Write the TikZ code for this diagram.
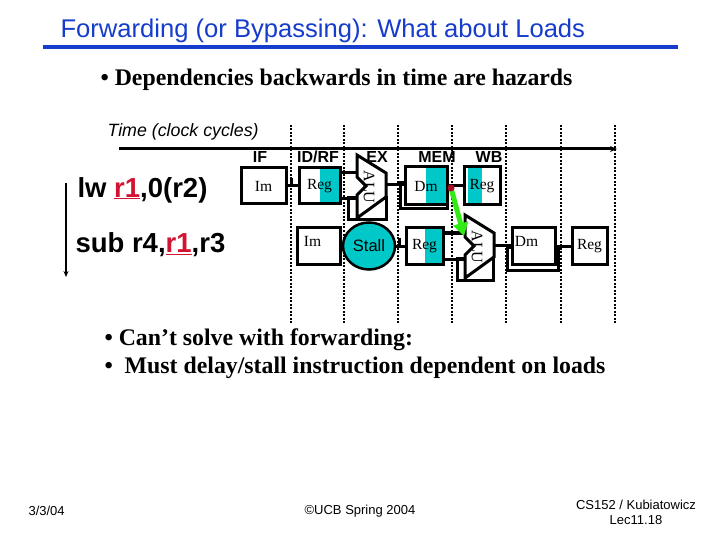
\documentclass[tikz,border=0pt]{standalone}
\usepackage{fontspec}
\setmainfont{Liberation Serif}
\setsansfont{Liberation Sans}
\usetikzlibrary{arrows.meta,calc,shapes.geometric}
\definecolor{titleblue}{RGB}{22,60,204}
\definecolor{regteal}{RGB}{0,200,200}
\definecolor{depred}{RGB}{210,20,50}
\definecolor{fwdgreen}{RGB}{50,235,20}
\tikzset{
  stagebox/.style={draw,fill=white,line width=3pt,minimum height=36pt,inner sep=0pt,
    font=\fontsize{15.5}{15.5}\selectfont},
  tealright/.style={path picture={\fill[regteal] ([xshift=-#1pt]path picture bounding box.north east)
    rectangle (path picture bounding box.south east);}},
  tealleft/.style={path picture={\fill[regteal] ([xshift=4pt]path picture bounding box.north west)
    rectangle ([xshift=#1pt]path picture bounding box.south west);}},
  wire/.style={line width=3pt},
  tick/.style={line width=3pt},
  cycleline/.style={line width=2.5pt,dash pattern=on 2pt off 1.5pt},
  stagelabel/.style={font=\sffamily\bfseries\fontsize{16}{16}\selectfont},
  instr/.style={anchor=west,font=\sffamily\bfseries\fontsize{27.5}{27.5}\selectfont},
  bullet/.style={anchor=west,font=\bfseries\fontsize{23.8}{23.8}\selectfont},
  foot/.style={font=\sffamily\fontsize{13}{15}\selectfont,align=center}
}
\newcommand{\depreg}{\textcolor{depred}{\underline{r1}}}
\newcommand{\aluunit}[2]{%
  \begin{scope}[shift={#2}]
    \draw[line width=3pt,fill=white] (0,0) -- (29,18) -- (29,42) -- (0,63) -- (0,40) -- (9,31) -- (0,22) -- cycle;
    \node[rotate=-90,font=\fontsize{16}{16}\selectfont,inner sep=0pt] at (12,32) {ALU};
    \coordinate (#1-in1) at (0,18);
    \coordinate (#1-in2) at (0,44);
    \coordinate (#1-out) at (29,30);
  \end{scope}}
\begin{document}
\begin{tikzpicture}[x=1pt,y=-1pt,>=Stealth]
  \useasboundingbox[fill=white] (0,0) rectangle (720,540);

  \node[anchor=west,text=titleblue,font=\sffamily\fontsize{25.6}{25.6}\selectfont] (title) at (57,31)
    {Forwarding (or Bypassing): What about Loads};
  \draw[titleblue,line width=4pt] (43,47) -- (678,47);
  \node[bullet] (deps) at (97,80) {\textbullet\ Dependencies backwards in time are hazards};

  \node[anchor=west,font=\sffamily\itshape\fontsize{17.8}{17.8}\selectfont] (time) at (104,132) {Time (clock cycles)};
  \foreach \x in {291,344,398,452,506,561,615}
    \draw[cycleline] (\x,125) -- (\x,323);
  \coordinate (t0) at (119,149);
  \coordinate (t1) at (617,149);
  \draw[line width=3pt,-{Stealth[length=7pt,width=6pt]}] (t0) -- (t1);

  \node[stagelabel] (sIF) at (260,157) {IF};
  \node[stagelabel] (sID) at (318,157) {ID/RF};
  \node[stagelabel] (sEX) at (377,157) {EX};
  \node[stagelabel] (sMEM) at (437,157) {MEM};
  \node[stagelabel] (sWB) at (489,157) {WB};

  \node[instr] (lw) at (74,190) {lw \depreg,0(r2)};
  \node[instr] (sub) at (72,245) {sub r4,\depreg,r3};
  \coordinate (a0) at (66,183);
  \coordinate (a1) at (66,277);
  \draw[line width=1.3pt,-{Stealth[length=6pt,width=5pt]}] (a0) -- (a1);

  \draw[line width=3pt] (348,198) rectangle (386,220);
  \draw[line width=3pt] (400,183) rectangle (447,209);
  \draw[line width=3pt] (457,258) rectangle (493,280);
  \draw[line width=3pt] (507,247) rectangle (558,270);

  \node[stagebox,minimum width=45pt] (im1) at (263.5,186) {Im};
  \node[stagebox,minimum width=41pt,tealright=20] (reg1) at (319.5,186) {Reg};
  \aluunit{alu1}{(357,155)}
  \node[stagebox,minimum width=42pt,minimum height=38pt,tealright=21] (dm1) at (426,186) {Dm};
  \node[stagebox,minimum width=36pt,minimum height=38pt,tealleft=18] (wb1) at (482,186) {Reg};

  \node[stagebox,minimum width=43pt,text depth=10pt] (im2) at (318.5,246) {\hspace*{-12pt}Im};
  \node[ellipse,draw,fill=regteal,line width=2.5pt,minimum width=52pt,minimum height=47pt,inner sep=0pt,
    font=\sffamily\fontsize{16.5}{16.5}\selectfont] (stall) at (369,246) {Stall};
  \node[stagebox,minimum width=37pt,tealright=18] (reg2) at (424.5,246) {Reg};
  \aluunit{alu2}{(465,215)}
  \node[stagebox,minimum width=43pt,text depth=10pt] (dm2) at (533.5,246) {\hspace*{-14pt}Dm};
  \node[stagebox,minimum width=35pt] (wb2) at (589.5,246) {Reg};

  \draw[wire] (im1) -- (reg1);
  \draw[tick] ($(im1.east)!0.4!(reg1.west)$) -- ++(0,-8);
  \draw[wire] ([yshift=13pt]reg1.east) -- (alu1-in1);
  \draw[wire] ([yshift=-13pt]reg1.east) -- (alu1-in2);
  \draw[wire] (alu1-out) -- (dm1.west |- alu1-out);
  \draw[wire] (dm1) -- (wb1);
  \draw[wire] (stall) -- (reg2);
  \draw[tick] ($(stall.east)!0.4!(reg2.west)$) -- ++(0,-8);
  \draw[wire] ([yshift=13pt]reg2.east) -- (alu2-in1);
  \draw[wire] ([yshift=-13pt]reg2.east) -- (alu2-in2);
  \draw[wire] (alu2-out) -- (dm2.west |- alu2-out);
  \draw[wire] (dm2) -- (wb2);

  \coordinate (fwd) at (451,188);
  \draw[fwdgreen,line width=5pt,-{Triangle[length=13pt,width=15pt]}] (fwd) -- (464,236);
  \fill[depred!80!black] (fwd) circle (3.5);

  \node[bullet] (b1) at (101,340) {\textbullet\ Can’t solve with forwarding:};
  \node[bullet] (b2) at (101,368) {\textbullet\ \ Must delay/stall instruction dependent on loads};

  \node[foot,anchor=west] (date) at (25,511) {3/3/04};
  \node[foot] (ucb) at (360,511) {©UCB Spring 2004};
  \node[foot] (course) at (636,512) {CS152 / Kubiatowicz\\Lec11.18};
\end{tikzpicture}
\end{document}
